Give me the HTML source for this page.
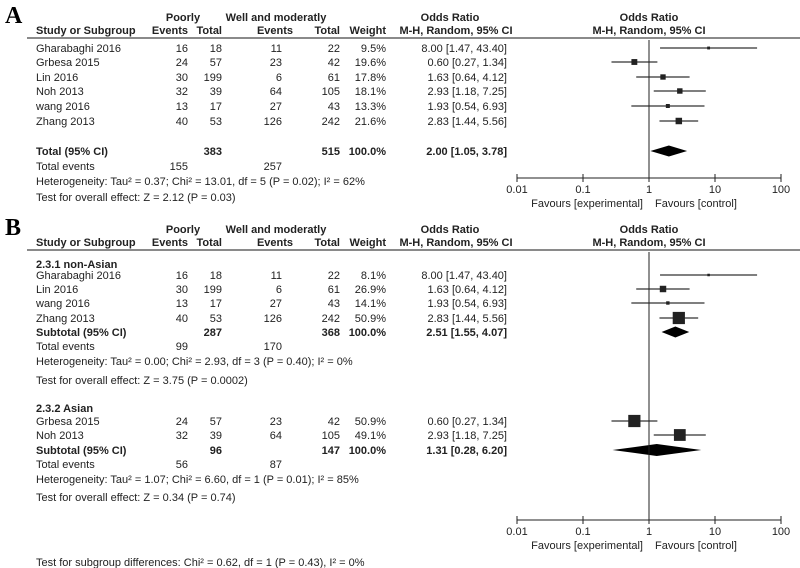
<!DOCTYPE html>
<html><head><meta charset="utf-8"><style>
html,body{margin:0;padding:0;background:#fff;}
svg{display:block;font-family:"Liberation Sans",Arial,sans-serif;font-size:11px;fill:#222;}
.b{font-weight:bold;}
.L{font-family:"Liberation Serif",serif;font-size:24px;font-weight:bold;fill:#000;}
</style></head><body>
<svg id="c" width="800" height="568" viewBox="0 0 800 568"></svg>
<script>
const studiesA=["Gharabaghi 2016","Grbesa 2015","Lin 2016","Noh 2013","wang 2016","Zhang  2013"];
const evP_A=[16,24,30,32,13,40];
const totP_A=[18,57,199,39,17,53];
const evW_A=[11,23,6,64,27,126];
const totW_A=[22,42,61,105,43,242];
const weightA=[9.5,19.6,17.8,18.1,13.3,21.6];
const orA=[8.00,0.60,1.63,2.93,1.93,2.83];
const loA=[1.47,0.27,0.64,1.18,0.54,1.44];
const hiA=[43.40,1.34,4.12,7.25,6.93,5.56];
const totalA=[2.00,1.05,3.78];

const studiesB1=["Gharabaghi 2016","Lin 2016","wang 2016","Zhang  2013"];
const evP_B1=[16,30,13,40];const totP_B1=[18,199,17,53];
const evW_B1=[11,6,27,126];const totW_B1=[22,61,43,242];
const weightB1=[8.1,26.9,14.1,50.9];
const orB1=[8.00,1.63,1.93,2.83];const loB1=[1.47,0.64,0.54,1.44];const hiB1=[43.40,4.12,6.93,5.56];
const subB1=[2.51,1.55,4.07];
const studiesB2=["Grbesa 2015","Noh 2013"];
const evP_B2=[24,32];const totP_B2=[57,39];
const evW_B2=[23,64];const totW_B2=[42,105];
const weightB2=[50.9,49.1];
const orB2=[0.60,2.93];const loB2=[0.27,1.18];const hiB2=[1.34,7.25];
const subB2=[1.31,0.28,6.20];
const ticks=[0.01,0.1,1,10,100];
const tickLabels=["0.01","0.1","1","10","100"];

const svg=document.getElementById('c');
const NS="http://www.w3.org/2000/svg";
const OR_R=507;
function x(v){return 649+66*Math.log10(v);}
function el(tag,attrs,name,txt){const e=document.createElementNS(NS,tag);for(const k in attrs)e.setAttribute(k,attrs[k]);


if(txt!==undefined)e.textContent=txt;svg.appendChild(e);return e;}
function t(xx,y,s,name,anchor,cls){return el('text',{x:xx,y:y,'text-anchor':anchor||'start',class:cls||''},name,s);}
function fmt(v){return v.toFixed(2);}
function ci(o,l,h){return fmt(o)+" ["+fmt(l)+", "+fmt(h)+"]";}
function header(y0,label){
  t(5,y0+6,label,'panel-label-'+label,'start','L');
  t(183,y0+4,"Poorly",'header-poorly','middle','b');
  t(276,y0+4,"Well and moderatly",'header-well','middle','b');
  t(450,y0+4,"Odds Ratio",'header-or','middle','b');
  t(649,y0+4,"Odds Ratio",'header-or-plot','middle','b');
  const y=y0+17;
  t(36,y,"Study or Subgroup",'header-study','start','b');
  t(188,y,"Events",'header-events-p','end','b');
  t(222,y,"Total",'header-total-p','end','b');
  t(275,y,"Events",'header-events-w','middle','b');
  t(340,y,"Total",'header-total-w','end','b');
  t(386,y,"Weight",'header-weight','end','b');
  t(456,y,"M-H, Random, 95% CI",'header-mh','middle','b');
  t(649,y,"M-H, Random, 95% CI",'header-mh-plot','middle','b');
  el('line',{x1:27,x2:800,y1:y0+21,y2:y0+21,stroke:'#444','stroke-width':1.3},'header-rule');
}
function row(y,s,ep,tp,ew,tw,w,o,l,h,sc){
  t(36,y,s,'study-name');t(188,y,ep,'events-poorly','end');t(222,y,tp,'total-poorly','end');
  t(282,y,ew,'events-well','end');t(340,y,tw,'total-well','end');t(386,y,w.toFixed(1)+"%",'weight','end');
  t(OR_R,y,ci(o,l,h),'odds-ratio-ci','end');
  const cy=y-4;
  el('line',{x1:x(l),x2:x(h),y1:cy,y2:cy,stroke:'#333','stroke-width':1.2},'ci-line');
  const s2=Math.max(2.5,w*sc);
  el('rect',{x:x(o)-s2/2,y:cy-s2/2,width:s2,height:s2,fill:'#222'},'study-square');
}
function diamond(cy,v,h){
  const p=[[x(v[1]),cy],[x(v[0]),cy-h],[x(v[2]),cy],[x(v[0]),cy+h]].map(a=>a.join(',')).join(' ');
  el('polygon',{points:p,fill:'#000'},'summary-diamond');
}
function axis(y,top){
  el('line',{x1:x(1),x2:x(1),y1:top,y2:y,stroke:'#222','stroke-width':1},'null-line');
  el('line',{x1:x(0.01),x2:x(100),y1:y,y2:y,stroke:'#222','stroke-width':1},'x-axis');
  ticks.forEach((v,i)=>{el('line',{x1:x(v),x2:x(v),y1:y-4,y2:y+4,stroke:'#222'},'x-tick');
    t(x(v),y+15,tickLabels[i],'x-tick-label','middle');});
  t(x(1)-6,y+29,"Favours [experimental]",'favours-experimental','end');
  t(x(1)+6,y+29,"Favours [control]",'favours-control','start');
}
// Panel A
header(17,"A");
const yA=[52,66,81,95,110,125];
studiesA.forEach((s,i)=>row(yA[i],s,evP_A[i],totP_A[i],evW_A[i],totW_A[i],weightA[i],orA[i],loA[i],hiA[i],0.3));
t(36,155,"Total (95% CI)",'total-label','start','b');t(222,155,"383",'total-p','end','b');
t(340,155,"515",'total-w','end','b');t(386,155,"100.0%",'total-weight','end','b');
t(OR_R,155,ci(...totalA),'total-or','end','b');
diamond(151,totalA,5.5);
t(36,170,"Total events",'total-events');t(188,170,"155",'total-events-p','end');t(282,170,"257",'total-events-w','end');
t(36,185,"Heterogeneity: Tau² = 0.37; Chi² = 13.01, df = 5 (P = 0.02); I² = 62%",'heterogeneity');
t(36,201,"Test for overall effect: Z = 2.12 (P = 0.03)",'overall-effect');
axis(178,40);
// Panel B
header(229,"B");
t(36,268,"2.3.1 non-Asian",'subgroup-1','start','b');
const yB1=[279,293,307,322];
studiesB1.forEach((s,i)=>row(yB1[i],s,evP_B1[i],totP_B1[i],evW_B1[i],totW_B1[i],weightB1[i],orB1[i],loB1[i],hiB1[i],0.24));
t(36,336,"Subtotal (95% CI)",'subtotal-1','start','b');t(222,336,"287",'subtotal-1-p','end','b');
t(340,336,"368",'subtotal-1-w','end','b');t(386,336,"100.0%",'subtotal-1-weight','end','b');
t(OR_R,336,ci(...subB1),'subtotal-1-or','end','b');diamond(332,subB1,5.5);
t(36,350,"Total events",'total-events-1');t(188,350,"99",'te1-p','end');t(282,350,"170",'te1-w','end');
t(36,365,"Heterogeneity: Tau² = 0.00; Chi² = 2.93, df = 3 (P = 0.40); I² = 0%",'heterogeneity-1');
t(36,384,"Test for overall effect: Z = 3.75 (P = 0.0002)",'overall-effect-1');
t(36,412,"2.3.2 Asian",'subgroup-2','start','b');
const yB2=[425,439];
studiesB2.forEach((s,i)=>row(yB2[i],s,evP_B2[i],totP_B2[i],evW_B2[i],totW_B2[i],weightB2[i],orB2[i],loB2[i],hiB2[i],0.24));
t(36,454,"Subtotal (95% CI)",'subtotal-2','start','b');t(222,454,"96",'subtotal-2-p','end','b');
t(340,454,"147",'subtotal-2-w','end','b');t(386,454,"100.0%",'subtotal-2-weight','end','b');
t(OR_R,454,ci(...subB2),'subtotal-2-or','end','b');diamond(450,subB2,6);
t(36,468,"Total events",'total-events-2');t(188,468,"56",'te2-p','end');t(282,468,"87",'te2-w','end');
t(36,483,"Heterogeneity: Tau² = 1.07; Chi² = 6.60, df = 1 (P = 0.01); I² = 85%",'heterogeneity-2');
t(36,501,"Test for overall effect: Z = 0.34 (P = 0.74)",'overall-effect-2');
axis(520,252);
t(36,566,"Test for subgroup differences: Chi² = 0.62, df = 1 (P = 0.43), I² = 0%",'subgroup-differences');
</script>
</body></html>
